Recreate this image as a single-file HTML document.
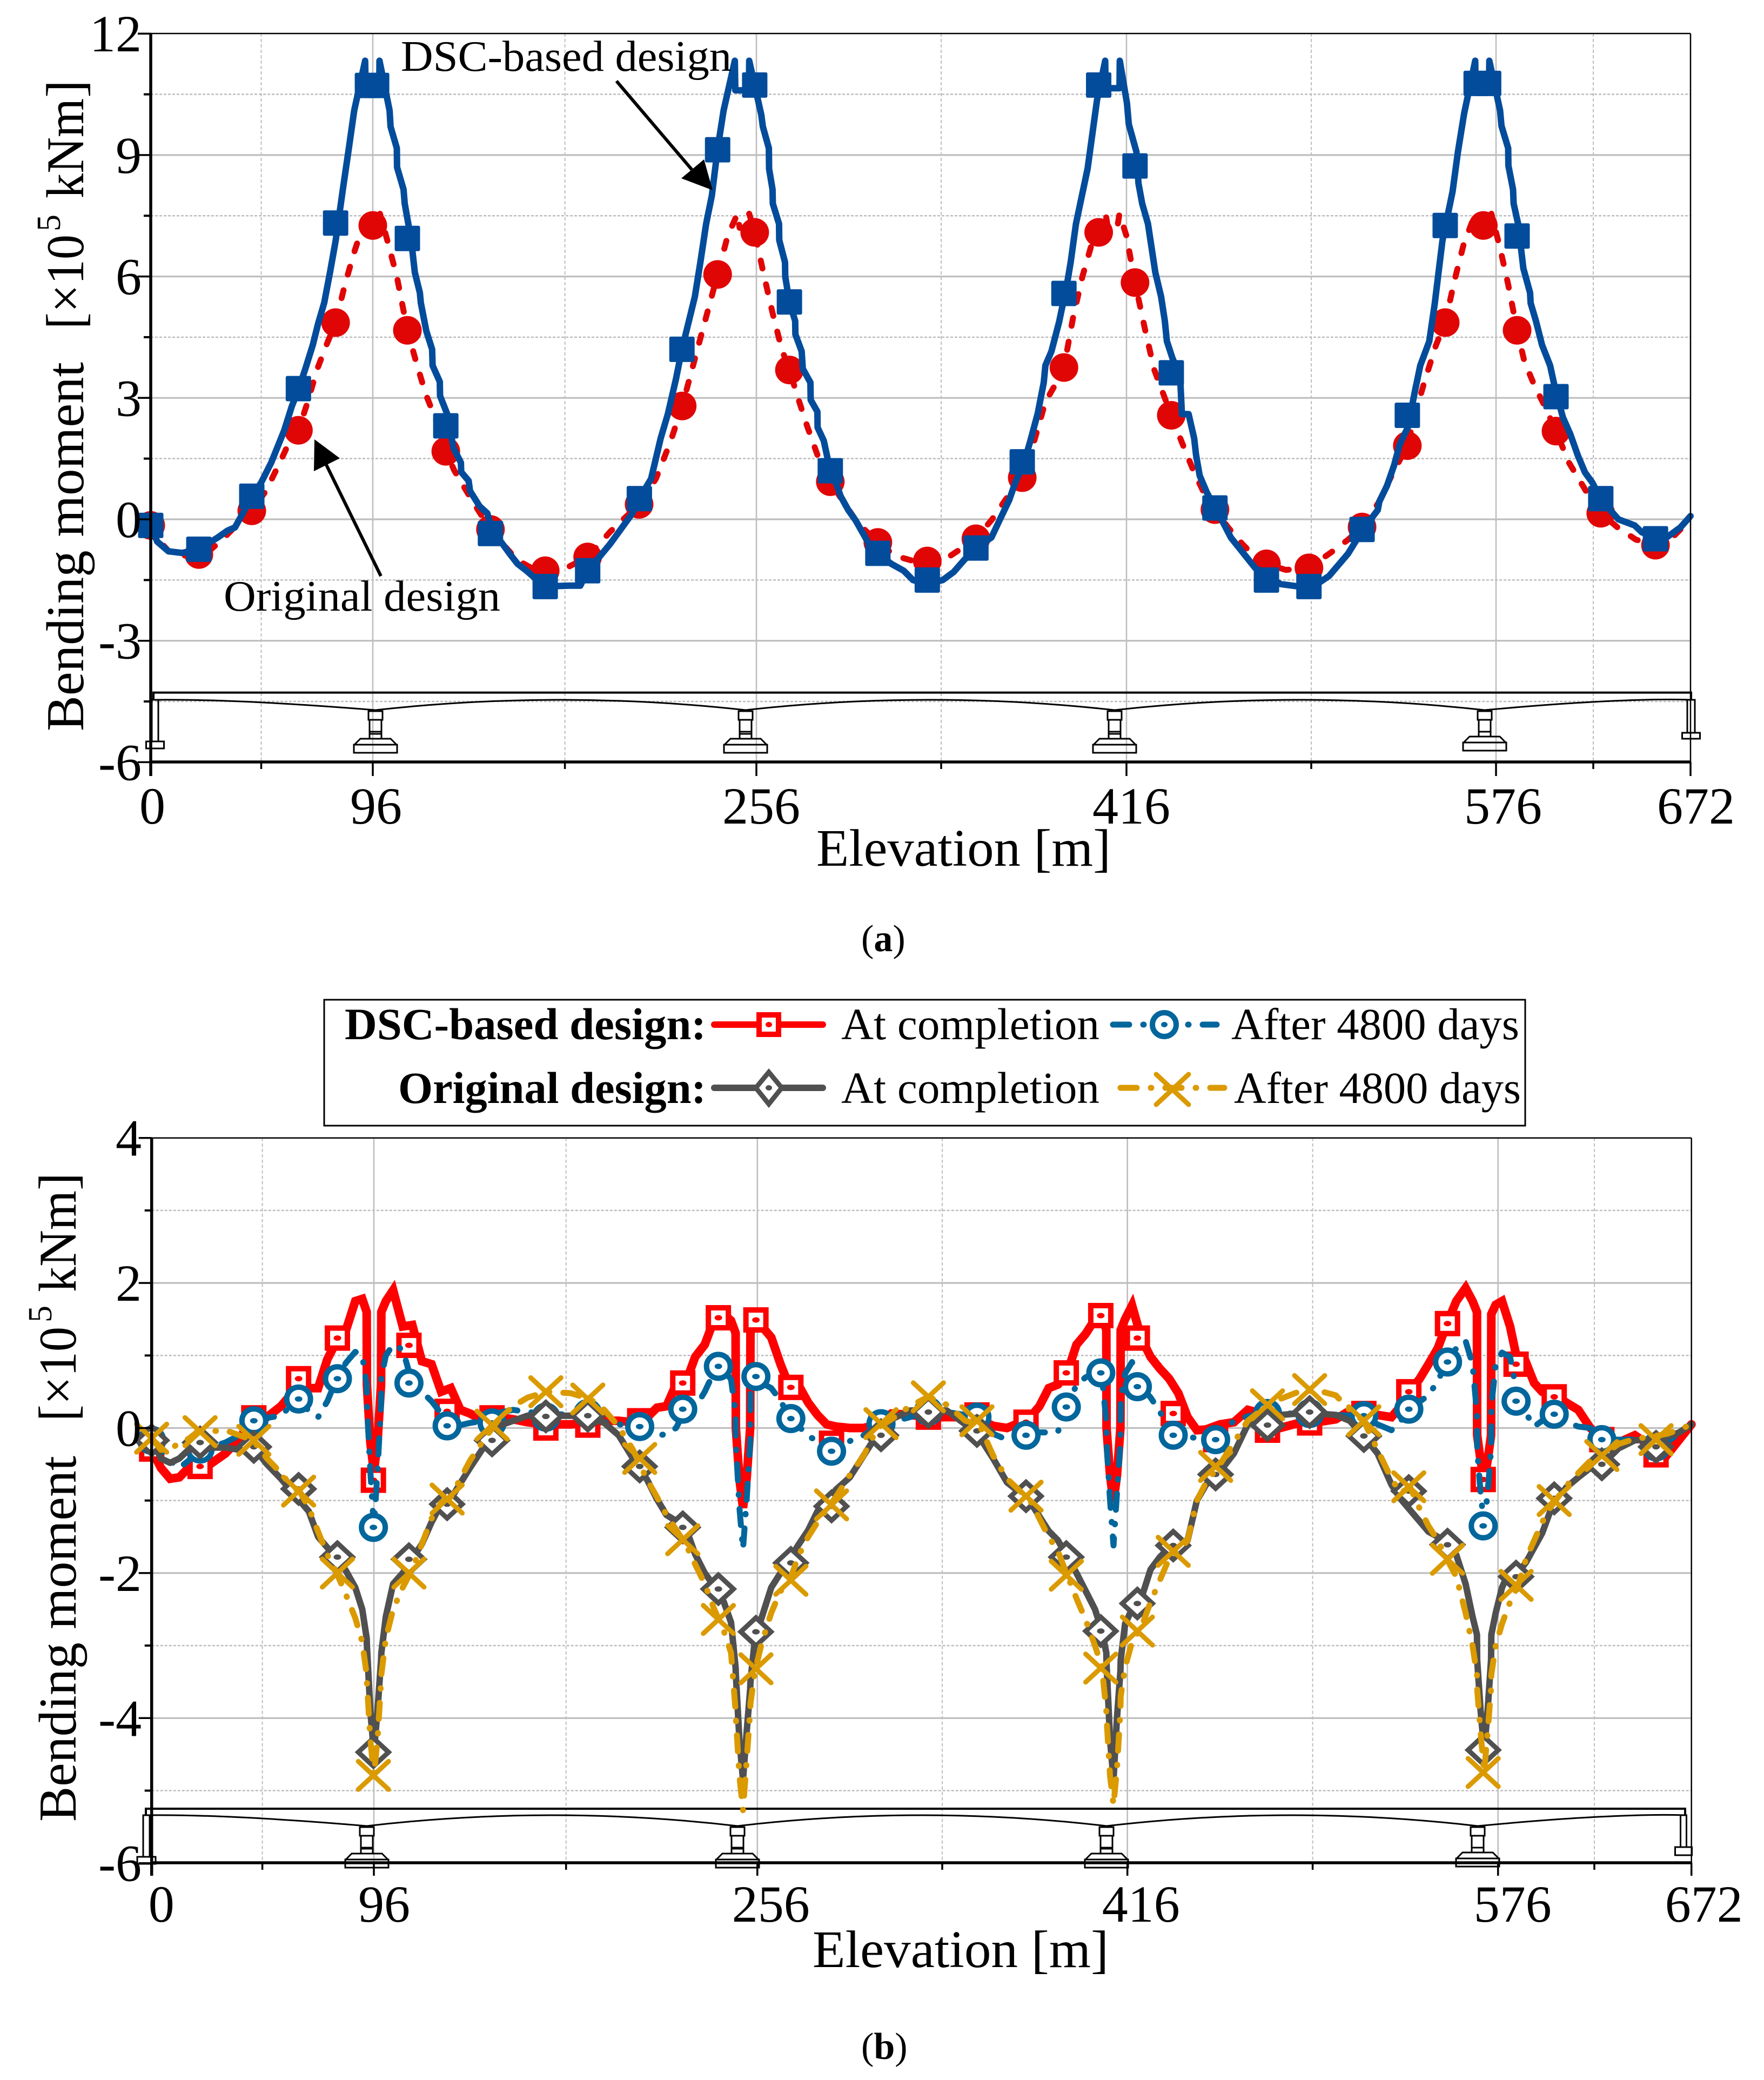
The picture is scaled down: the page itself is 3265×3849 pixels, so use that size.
<!DOCTYPE html>
<html lang="en">
<head>
<meta charset="utf-8">
<title>Bending moment comparison</title>
<style>
html,body{margin:0;padding:0;background:#fff;}
svg{display:block;}
text{font-family:"Liberation Serif",serif;fill:#000;}
</style>
</head>
<body>
<svg id="chart" xmlns="http://www.w3.org/2000/svg" width="3265" height="3849" viewBox="0 0 3265 3849">
<rect x="0" y="0" width="3265" height="3849" fill="#fff"/>
<g id="a-grid"></g>
<g id="a-bridge"></g>
<g id="a-marks"></g>
<g id="a-axes"></g>
<g id="b-grid"></g>
<g id="b-bridge"></g>
<g id="b-marks"></g>
<g id="b-axes"></g>

<g>
<text transform="translate(154,1353) rotate(-90)" font-size="99" textLength="683" lengthAdjust="spacingAndGlyphs">Bending moment</text>
<text transform="translate(154,609) rotate(-90)" font-size="99" textLength="175" lengthAdjust="spacingAndGlyphs">[×10</text>
<text transform="translate(111,428) rotate(-90)" font-size="62">5</text>
<text transform="translate(154,367) rotate(-90)" font-size="99" textLength="185" lengthAdjust="spacingAndGlyphs">kNm</text>
<text transform="translate(154,181) rotate(-90)" font-size="99">]</text>
</g>
<text x="1511" y="1602" font-size="98" textLength="545" lengthAdjust="spacingAndGlyphs">Elevation [m]</text>
<text x="742" y="131" font-size="80" textLength="612" lengthAdjust="spacingAndGlyphs">DSC-based design</text>
<text x="414" y="1130" font-size="80" textLength="512" lengthAdjust="spacingAndGlyphs">Original design</text>
<g>
<line x1="705" y1="1066" x2="598" y2="848" stroke="#000" stroke-width="6"/>
<polygon points="582,813 629,848 581,872" fill="#000"/>
</g>
<g>
<line x1="1141" y1="150" x2="1290" y2="325" stroke="#000" stroke-width="6"/>
<polygon points="1319,352 1303,295 1261,330" fill="#000"/>
</g>
<text x="1594" y="1760" font-size="70">(<tspan font-weight="bold">a</tspan>)</text>

<g>
<rect x="600" y="1850" width="2223" height="233" fill="#fff" stroke="#000" stroke-width="3"/>
<text x="1307" y="1923" text-anchor="end" font-size="83" font-weight="bold" textLength="669" lengthAdjust="spacingAndGlyphs">DSC-based design:</text>
<text x="1307" y="2041" text-anchor="end" font-size="83" font-weight="bold" textLength="570" lengthAdjust="spacingAndGlyphs">Original design:</text>
<line x1="1322" y1="1896" x2="1523" y2="1896" stroke="#FF0000" stroke-width="12" stroke-linecap="round"/>
<rect x="1405" y="1878" width="36" height="36" fill="#fff" stroke="#FF0000" stroke-width="10"/>
<ellipse cx="1423" cy="1896" rx="6" ry="5" fill="#FF0000"/>
<text x="1557" y="1923" font-size="83" textLength="478" lengthAdjust="spacingAndGlyphs">At completion</text>
<line x1="2060" y1="1896" x2="2252" y2="1896" stroke="#00669C" stroke-width="11" stroke-linecap="round" stroke-dasharray="30 26 1 26"/>
<circle cx="2155" cy="1896" r="22" fill="#fff" stroke="#00669C" stroke-width="10"/>
<ellipse cx="2155" cy="1896" rx="6" ry="5" fill="#00669C"/>
<text x="2279" y="1923" font-size="83" textLength="533" lengthAdjust="spacingAndGlyphs">After 4800 days</text>
<line x1="1322" y1="2013" x2="1523" y2="2013" stroke="#505050" stroke-width="12" stroke-linecap="round"/>
<polygon points="1423,1984 1447,2013 1423,2043 1399,2013" fill="#fff" stroke="#505050" stroke-width="9"/>
<ellipse cx="1423" cy="2013" rx="6" ry="5" fill="#505050"/>
<text x="1557" y="2041" font-size="83" textLength="478" lengthAdjust="spacingAndGlyphs">At completion</text>
<line x1="2074" y1="2013" x2="2266" y2="2013" stroke="#DA9A00" stroke-width="11" stroke-linecap="round" stroke-dasharray="30 26 1 26"/>
<path d="M2140,1988 L2200,2044 M2200,1988 L2140,2044" fill="none" stroke="#DA9A00" stroke-width="9" stroke-linecap="round"/>
<text x="2284" y="2041" font-size="83" textLength="531" lengthAdjust="spacingAndGlyphs">After 4800 days</text>
</g>

<g>
<text transform="translate(140,3371) rotate(-90)" font-size="99" textLength="677" lengthAdjust="spacingAndGlyphs">Bending moment</text>
<text transform="translate(140,2630) rotate(-90)" font-size="99" textLength="175" lengthAdjust="spacingAndGlyphs">[×10</text>
<text transform="translate(95,2447) rotate(-90)" font-size="62">5</text>
<text transform="translate(140,2391) rotate(-90)" font-size="99" textLength="188" lengthAdjust="spacingAndGlyphs">kNm</text>
<text transform="translate(140,2203) rotate(-90)" font-size="99">]</text>
</g>
<text x="1504" y="3640" font-size="98" textLength="548" lengthAdjust="spacingAndGlyphs">Elevation [m]</text>
<text x="1594" y="3810" font-size="70">(<tspan font-weight="bold">b</tspan>)</text>

<script>
// ---------- shared axis values ----------
const xTickValues = [0, 48, 96, 176, 256, 336, 416, 496, 576, 624, 672];
const xMajorLabels = [0, 96, 256, 416, 576, 672];

// ---------- panel (a) values ----------
const yTicksA = [12, 9, 6, 3, 0, -3, -6];
const yMinorA = [10.5, 7.5, 4.5, 1.5, -1.5, -4.5];

const dscLineA = [[0,-.15],[2.8,-.55],[7.7,-.79],[13.6,-.83],[20.9,-.74],[29.1,-.45],[33.3,-.28],[36.6,-.2],[43.9,.55],[48,.91],[52.3,1.4],[57.9,2.2],[61.2,2.8],[64,3.2],[67,3.72],[70.2,4.31],[72.5,4.84],[75.1,5.35],[77.6,6.1],[80,6.88],[83.2,8.18],[85.7,9.17],[88,10.1],[92.7,11.33],[92.9,10.7],[98.7,10.7],[98.8,11.33],[103,10.1],[103.4,9.7],[106,9.17],[106.1,8.7],[108.8,8.15],[109.3,7.8],[112,6.9],[113.5,6.1],[115.6,5.6],[116,5.35],[118.3,4.65],[120.7,4.2],[120.9,3.8],[123.9,3.4],[124,3.05],[127,2.6],[129.6,1.76],[132.7,1.4],[132.8,1.17],[135.9,.95],[136.5,.7],[140.5,.32],[143.7,.15],[145.5,-.24],[153,-.85],[156.3,-1.1],[160,-1.27],[167.5,-1.66],[177.7,-1.64],[182.4,-1.64],[185.5,-1.27],[188,-1.1],[195,-.6],[204.2,.15],[207,.51],[212,1],[216,2],[219,2.6],[222.4,3.47],[224.9,4.2],[227.8,4.9],[230.3,5.5],[232.6,6.35],[235,7.3],[237.4,8],[239.8,9.15],[242.3,10.1],[247,11.33],[247.2,10.6],[252.9,10.6],[253,11.33],[258.1,10],[258.8,9.7],[261.4,9.17],[261.5,8.66],[263,8.15],[263.1,7.8],[265.8,7.3],[265.9,6.9],[268.4,6.35],[268.5,6],[270.3,5.37],[272.8,4.9],[272.9,4.57],[275.6,4.15],[276.1,3.72],[279.4,3.38],[279.5,2.95],[282.4,2.66],[282.5,2.27],[285.2,1.94],[288,1.19],[290.9,.83],[292.5,.57],[295.8,.23],[299,-.03],[302.3,-.36],[305.6,-.7],[308.6,-.84],[314.4,-1.1],[319.8,-1.27],[323.8,-1.5],[330,-1.6],[336.7,-1.5],[341.4,-1.3],[346,-1],[351,-.71],[357.7,-.45],[361.4,0],[365.4,.48],[368,.91],[371.9,1.42],[374.5,1.94],[377.7,2.62],[380.3,3.38],[381,3.8],[383.6,4.15],[386.9,4.87],[390.2,5.77],[391.9,6.35],[394.2,7.3],[399.2,8.66],[401.7,9.7],[403.3,10.36],[406.8,11.33],[407,10.65],[413,10.65],[413.1,11.33],[416.2,10.28],[417,9.76],[420.3,9.08],[421.2,8.3],[422.8,7.8],[425.3,7.3],[426.9,6.7],[428.5,6.1],[431,5.5],[432.6,4.9],[433.5,4.4],[435.9,3.98],[439.2,3.55],[440,2.6],[442.9,2.6],[445.3,2],[446.1,1.6],[447.7,1.08],[450.9,.65],[454.1,.32],[458,-.1],[461.2,-.45],[471.7,-1.2],[482.7,-1.6],[495.9,-1.7],[503.7,-1.4],[511.9,-.85],[518.5,-.24],[524.8,.23],[525.5,.44],[528.8,.83],[531.9,1.34],[534.3,1.85],[537.8,2.27],[541,3.2],[543.2,3.8],[547.1,4.4],[549.5,5.34],[551.1,6.1],[552.8,6.88],[557.2,8.1],[559.5,9.08],[562.2,10.03],[567,11.33],[567.1,10.8],[573,10.8],[573.1,11.33],[578,10.1],[578.7,9.72],[582,9.17],[582.1,8.74],[584.4,8.15],[584.7,7.8],[586.9,7.3],[589.5,6.2],[592.8,5.6],[593.1,5.34],[595.7,4.9],[598.7,4.31],[602.7,3.8],[605.3,3.2],[609,2.52],[612.7,2.1],[616.3,1.59],[619.9,1.16],[623.5,.91],[628,.48],[636.4,0],[644.4,-.15],[648,-.32],[657.9,-.53],[667,-.2],[672,.08]];

const dscMarkersA = [[0,-.15],[20.9,-.74],[43.9,.57],[64,3.23],[80,7.32],[93.7,10.72],[97.6,10.72],[110.4,6.94],[126.4,2.31],[145,-.35],[167.8,-1.66],[185.5,-1.27],[207.1,.51],[224.9,4.2],[239.8,9.13],[255.3,10.73],[270.3,5.37],[288,1.2],[308.6,-.84],[330,-1.5],[351,-.71],[371,1.42],[389,5.58],[404,10.73],[419.7,8.73],[435.4,3.62],[454.3,.28],[476.6,-1.5],[495,-1.66],[518,-.25],[537.6,2.57],[554,7.26],[567.4,10.77],[572.8,10.77],[586.4,7],[605.6,3.03],[627.7,.51],[654.7,-.48]];

const originalLineA = [[0,-.15],[4,-.55],[8,-.8],[14,-.9],[20.9,-.87],[26,-.75],[32,-.45],[38,-.1],[43.9,.21],[50,.7],[56,1.4],[60,1.9],[64,2.2],[68,2.9],[72,3.7],[76,4.3],[80,4.86],[84,5.8],[88,6.6],[92,7.3],[93,7.55],[94,7.2],[98,7.2],[99,7.55],[102,6.9],[106,6],[110.4,4.67],[114,3.9],[118,3.1],[122,2.5],[126.4,1.68],[130,1.2],[134,.8],[138,.4],[145,-.25],[150,-.6],[156,-1],[162,-1.2],[167.8,-1.27],[175,-1.25],[185.5,-.93],[195,-.3],[207,.37],[214,1],[220,1.9],[225,2.8],[230,3.9],[235,5],[239.8,6.05],[244,7],[247,7.4],[248,7.55],[249,7.2],[252,7.2],[253,7.55],[255.3,7.09],[259,6.1],[263,5.1],[267,4.2],[270.3,3.69],[274,3],[278,2.3],[283,1.5],[288,.93],[294,.4],[300,-.1],[308.6,-.57],[316,-.9],[324,-1.03],[330,-1.03],[340,-.9],[351,-.48],[358,0],[364,.5],[371,1.03],[376,1.9],[381,2.9],[385,3.3],[389,3.75],[393,5],[397,6],[401,6.8],[405,7.4],[407,7.55],[408,7.2],[412,7.2],[413,7.55],[416,7],[419.7,5.85],[424,4.7],[428,3.7],[435.4,2.57],[440,1.9],[445,1.2],[450,.6],[454.3,.24],[460,-.2],[466,-.6],[472,-.95],[476.6,-1.1],[485,-1.25],[495,-1.2],[505,-.8],[512,-.5],[518,-.19],[525,.4],[531,1.1],[537.6,1.82],[541,2.6],[545,3.4],[550,4.3],[554,4.86],[558,5.9],[562,6.8],[566,7.4],[567,7.55],[568,7.25],[573,7.25],[574,7.55],[578,6.7],[582,5.8],[586.4,4.67],[590,3.9],[595,3.3],[600,2.8],[605.6,2.18],[612,1.4],[618,.9],[624,.4],[627.7,.15],[636,-.2],[645,-.5],[654.7,-.64],[662,-.5],[668,-.2],[672,.05]];

const originalMarkersA = [[0,-.15],[20.9,-.87],[43.9,.21],[64,2.2],[80,4.86],[96,7.26],[110.4,4.67],[126.4,1.68],[145,-.25],[167.8,-1.27],[185.5,-.93],[207,.37],[225,2.8],[239.8,6.05],[255.3,7.09],[270.3,3.69],[288,.93],[308.6,-.57],[330,-1.03],[351,-.48],[371,1.03],[389,3.75],[404,7.09],[419.7,5.85],[435.4,2.57],[454.3,.24],[476.6,-1.1],[495,-1.2],[518,-.19],[537.6,1.82],[554,4.86],[570.5,7.26],[586.4,4.67],[605.6,2.18],[627.7,.15],[654.7,-.64]];

// ---------- panel (b) values ----------
const yTicksB = [4, 2, 0, -2, -4, -6];
const yMinorB = [3, 1, -1, -3, -5];

const elevationB = [
0,4,8,12,16,20,
24,32,38,44,50,56,60,64,68,72,76,80,84,88,91,
92.9,93,94.5,96,97.5,99,99.1,
101,104,108,112,116,120,124,128,132,136,142,148,154,160,168,
178,186,192,198,204,210,214,218,222,226,230,234,238,242,245,
246.9,247,248.5,250,251.5,253,253.1,
255,258,262,266,270,274,278,282,286,290,296,302,308,314,322,330,
338,346,352,358,364,370,374,378,382,386,390,394,398,402,405,
406.9,407,408.5,410,411.5,413,413.1,
415,418,422,426,430,434,438,442,446,450,456,462,468,474,482,490,
498,506,512,518,524,530,534,538,542,546,550,554,558,562,565,
566.9,567,568.5,570,571.5,573,573.1,
575,578,582,586,590,594,598,602,606,610,616,622,628,636,644,
652,660,666,672];

const dscCompletionB = [
-.3,-.55,-.7,-.68,-.55,-.53,
-.53,-.35,-.15,.14,.15,.3,.45,.68,.55,.55,.95,1.2,1.35,1.75,1.78,
1.6,.6,-.2,-.6,-.2,.6,1.6,
1.75,1.9,1.4,1.42,.92,.88,.5,.55,.25,.2,.1,.15,.12,.08,.05,
.05,.08,.1,.1,.08,.15,.28,.3,.6,.62,.98,1.15,1.5,1.57,1.48,
1.31,0,-.7,-1.1,-.7,0,1.31,
1.49,1.4,1.25,.88,.56,.58,.35,.18,.05,.02,0,0,.05,.2,.18,.15,
.15,.15,.12,.03,0,.08,.15,.3,.55,.6,.76,1.15,1.3,1.5,1.55,
1.35,0,-.65,-1.02,-.65,0,1.35,
1.5,1.69,1.24,.98,.82,.68,.48,.15,-.03,-.02,.05,.08,.25,.2,0,.07,
.08,.12,.24,.2,.18,.15,.3,.52,.67,.88,1.1,1.44,1.75,1.93,1.75,
1.6,-.1,-.45,-.72,-.45,-.1,1.57,
1.7,1.75,1.4,.88,.9,.62,.5,.45,.43,.35,.25,0,-.16,-.2,-.1,
-.25,-.37,-.16,.05];

const dsc4800B = [
-.17,-.3,-.45,-.55,-.45,-.3,
-.28,-.2,-.1,.1,.14,.17,.3,.4,.23,.15,.37,.68,.9,1.05,1,
.6,.33,-.6,-1.37,-.6,.33,.7,
1,1.15,1.08,.62,.5,.37,.2,.03,.04,.07,.1,.21,.25,.22,.2,
.18,.12,.08,.05,.03,-.08,-.11,-.08,0,.26,.28,.5,.78,.8,.67,
.2,-.21,-1.1,-1.67,-1,-.21,.52,
.71,.62,.55,.38,.13,.02,-.11,-.18,-.3,-.3,-.18,-.1,.03,.08,.15,.23,
.22,.18,.12,-.08,-.16,-.12,-.08,-.06,-.06,-.05,.29,.6,.7,.75,.7,
.1,-.2,-1,-1.62,-.9,-.2,.4,
.75,.91,.57,.42,.23,-.05,-.1,-.12,-.14,-.16,-.08,.1,.16,.2,.2,.2,
.2,.18,.17,.17,.05,-.03,.1,.26,.36,.45,.65,.91,1.1,1.2,.88,
.2,-.3,-.9,-1.35,-.9,-.3,.3,
.88,1.04,.98,.4,.2,.02,.1,.19,.15,.08,.02,0,-.16,-.16,-.16,
-.22,-.2,-.06,.05];

const originalCompletionB = [
-.15,-.42,-.48,-.42,-.3,-.28,
-.27,-.27,-.3,-.26,-.5,-.7,-.85,-1,-1.15,-1.5,-1.65,-1.78,-1.97,-2.2,-2.5,
-2.9,-3,-3.9,-4.47,-3.9,-3.2,-3.1,
-2.6,-2.15,-2,-1.8,-1.6,-1.3,-1.05,-.98,-.76,-.55,-.25,.03,.1,.17,.17,
.17,.15,.07,-.1,-.42,-.72,-.98,-1.2,-1.28,-1.37,-1.74,-2,-2.18,-2.4,-2.68,
-3.3,-3.4,-4.3,-4.85,-4.2,-3.6,-3.5,
-2.9,-2.6,-2.2,-2,-1.8,-1.6,-1.41,-1.15,-1.02,-.85,-.68,-.38,-.08,.12,.24,.25,
.24,.05,-.12,-.42,-.75,-.9,-1.02,-1.22,-1.42,-1.55,-1.78,-2,-2.25,-2.5,-2.8,
-3.1,-3.25,-4.3,-4.85,-4,-3.35,-3.2,
-2.7,-2.5,-2.35,-1.95,-1.78,-1.65,-1.6,-1.55,-1,-.78,-.6,-.35,.05,.13,.18,.2,
.2,.18,.1,-.11,-.35,-.78,-.98,-1.13,-1.28,-1.43,-1.5,-1.61,-1.75,-2.15,-2.6,
-2.85,-3.2,-3.9,-4.44,-3.9,-3.2,-2.85,
-2.55,-2.2,-1.95,-2,-1.85,-1.65,-1.45,-1.15,-.97,-.82,-.68,-.55,-.5,-.28,-.17,
-.16,-.12,-.06,.05];

const original4800B = [
-.14,-.3,-.3,-.2,-.15,-.05,
-.05,-.03,-.1,-.17,-.42,-.62,-.78,-.87,-1.1,-1.43,-1.75,-2,-2.3,-2.62,-2.95,
-3.4,-3.5,-4.3,-4.79,-4.3,-3.5,-3.4,
-2.9,-2.5,-2.2,-1.95,-1.6,-1.25,-1.03,-.95,-.7,-.45,-.15,.12,.3,.42,.5,
.48,.4,.25,.02,-.3,-.72,-.95,-1.2,-1.4,-1.6,-1.88,-2.15,-2.5,-2.8,-3.1,
-3.9,-4,-4.8,-5.27,-4.6,-3.9,-3.8,
-3.35,-2.95,-2.55,-2.25,-2.1,-1.75,-1.5,-1.3,-1.12,-.95,-.65,-.38,0,.12,.3,.43,
.32,.1,.05,-.38,-.7,-.88,-1,-1.25,-1.5,-1.7,-2.03,-2.35,-2.65,-3,-3.3,
-3.9,-4,-4.8,-5.2,-4.7,-3.9,-3.7,
-3.3,-2.95,-2.75,-2.4,-2.1,-1.8,-1.7,-1.55,-1,-.75,-.5,-.2,.1,.25,.4,.5,
.52,.45,.25,.1,-.3,-.7,-.9,-.81,-1.1,-1.35,-1.55,-1.81,-2.05,-2.55,-3,
-3.4,-3.6,-4.2,-4.75,-4.2,-3.6,-3.4,
-3,-2.7,-2.4,-2.17,-1.8,-1.55,-1.3,-1.1,-.95,-.8,-.62,-.45,-.38,-.22,-.15,
-.12,-.08,-.02,.05];

const markerElevationB = [0,21,44.3,63.6,80.3,95.8,110.6,126.5,145.2,167.6,185.1,206.8,224.8,239.7,255.4,270.5,288.1,309.5,330,351,372.2,389.6,404.5,420.3,435.8,454.1,476.5,494.7,518.1,537.5,554.2,569.6,585,604,627.7,654.5];
const dscCompletionMarkersB = [-.29,-.53,.14,.68,1.24,-.72,1.14,.23,.14,0,.04,.1,.62,1.52,1.49,.56,-.21,0,.15,.18,.08,.76,1.55,1.24,.2,-.16,-.03,.07,.2,.5,1.44,-.71,.88,.43,-.16,-.37];
const dsc4800MarkersB = [-.17,-.29,.1,.4,.68,-1.37,.62,.03,.07,.15,.2,.02,.26,.85,.71,.13,-.32,.06,.23,.15,-.1,.29,.76,.57,-.1,-.16,.2,.2,.17,.26,.91,-1.35,.37,.19,-.16,-.26];
const originalCompletionMarkersB = [-.17,-.2,-.26,-.84,-1.78,-4.47,-1.81,-1.05,-.17,.16,.17,-.53,-1.37,-2.22,-2.81,-1.86,-1.08,-.1,.22,-.04,-.94,-1.78,-2.8,-2.42,-1.62,-.64,.04,.22,-.11,-.87,-1.61,-4.44,-2.05,-.97,-.5,-.26];
const original4800MarkersB = [-.14,-.05,-.17,-.87,-2,-4.79,-2,-.98,.04,.5,.4,-.42,-1.54,-2.64,-3.32,-2.1,-1.06,.06,.43,.1,-.94,-2.03,-3.31,-2.8,-1.7,-.53,.32,.53,.1,-.81,-1.81,-4.75,-2.17,-1,-.38,-.16];

// ---------- helpers ----------
const NS = 'http://www.w3.org/2000/svg';
function make(parent, tag, attrs) {
  const el = document.createElementNS(NS, tag);
  for (const k in attrs) el.setAttribute(k, attrs[k]);
  parent.appendChild(el);
  return el;
}
function piecewise(domain, range) {
  return function (v) {
    let i = 0;
    while (i < domain.length - 2 && v > domain[i + 1]) i++;
    const t = (v - domain[i]) / (domain[i + 1] - domain[i]);
    return range[i] + t * (range[i + 1] - range[i]);
  };
}
function pathFrom(points, xs, ys) {
  return points.map((p, i) => (i ? 'L' : 'M') + xs(p[0]).toFixed(1) + ',' + ys(p[1]).toFixed(1)).join(' ');
}
function zip(a, b) {
  return a.map((v, i) => [v, b[i]]);
}

function drawAxes(gridG, axesG, o) {
  const GRID = '#BEBEBE';
  o.yTicks.forEach(function (v) {
    const y = o.ys(v);
    if (v !== o.yMin && v !== o.yMax) {
      const g = make(gridG, 'line', {x1: o.left, x2: o.right, y1: y, y2: y, stroke: GRID, 'stroke-width': 3.2});
      
      
    }
    const t = make(axesG, 'line', {x1: o.left - 24, x2: o.left, y1: y, y2: y, stroke: '#000', 'stroke-width': 3.5});
    
    
    const l = make(axesG, 'text', {x: 262, y: y + 33, 'text-anchor': 'end', 'font-size': 96});
    l.textContent = String(v);
    
    
  });
  o.yMinor.forEach(function (v) {
    const y = o.ys(v);
    const g = make(gridG, 'line', {x1: o.left, x2: o.right, y1: y, y2: y, stroke: GRID, 'stroke-width': 2.5, 'stroke-dasharray': '5 3'});
    
    
    const t = make(axesG, 'line', {x1: o.left - 13, x2: o.left, y1: y, y2: y, stroke: '#000', 'stroke-width': 4});
    
    
  });
  xTickValues.forEach(function (v) {
    const x = o.xs(v);
    const major = xMajorLabels.indexOf(v) >= 0;
    if (v !== 0 && v !== 672) {
      const g = make(gridG, 'line', major
        ? {x1: x, x2: x, y1: o.top, y2: o.bottom, stroke: GRID, 'stroke-width': 2.6}
        : {x1: x, x2: x, y1: o.top, y2: o.bottom, stroke: GRID, 'stroke-width': 2, 'stroke-dasharray': '6 4'});
      
      
    }
    const t = make(axesG, 'line', {x1: x, x2: x, y1: o.bottom, y2: o.bottom + (major ? o.majorLen : o.minorLen), stroke: '#000', 'stroke-width': 3.5});
    
    
    if (major) {
      const l = make(axesG, 'text', {x: x + o.labelShift(v), y: o.labelY, 'text-anchor': 'middle', 'font-size': 96});
      l.textContent = String(v);
      
      
    }
  });
  const topLine = make(axesG, 'line', {x1: o.left, x2: o.right, y1: o.top, y2: o.top, stroke: '#000', 'stroke-width': 2.5});
  
  
  const rightLine = make(axesG, 'line', {x1: o.right, x2: o.right, y1: o.top, y2: o.bottom + o.majorLen, stroke: '#000', 'stroke-width': 2.5});
  
  
  const yAxis = make(axesG, 'line', {x1: o.left, x2: o.left, y1: o.top, y2: o.bottom + o.majorLen, stroke: '#000', 'stroke-width': 5.5});
  
  
  const xAxis = make(axesG, 'line', {x1: o.left, x2: o.right, y1: o.bottom, y2: o.bottom, stroke: '#000', 'stroke-width': 5.5});
  
  
}

function drawBridge(g, deckY, midY, pierY, leftX, rightX, piers, pierBottom, leftAb, rightAb) {
  const S = {fill: 'none', stroke: '#000', 'stroke-width': 3};
  const deck = make(g, 'path', Object.assign({d: 'M' + leftX + ',' + midY + ' L' + leftX + ',' + deckY + ' L' + rightX + ',' + deckY + ' L' + rightX + ',' + midY}, S, {'stroke-width': 4}));
  
  
  let d = 'M' + leftX + ',' + midY + ' Q' + (leftX + 150) + ',' + (midY - 2) + ' ' + piers[0] + ',' + pierY;
  for (let i = 0; i < piers.length - 1; i++) {
    d += ' Q' + (piers[i] + piers[i + 1]) / 2 + ',' + (2 * midY - pierY) + ' ' + piers[i + 1] + ',' + pierY;
  }
  d += ' Q' + (rightX - 130) + ',' + (midY - 4) + ' ' + rightX + ',' + midY;
  const soffit = make(g, 'path', Object.assign({d: d}, S));
  
  
  piers.forEach(function (px, i) {
    const bottom = pierBottom[i];
    const p = make(g, 'path', Object.assign({d:
      'M' + (px - 13) + ',' + (pierY + 2) + ' h26 v16 h-26 z ' +
      'M' + (px - 11) + ',' + (pierY + 18) + ' v22 h22 v-22 ' +
      'M' + (px - 11) + ',' + (bottom - 26) + ' v-9 h22 v9 ' +
      'M' + (px - 39) + ',' + (bottom - 15) + ' L' + (px - 28) + ',' + (bottom - 26) + ' h56 L' + (px + 39) + ',' + (bottom - 15) + ' ' +
      'M' + (px - 40) + ',' + (bottom - 15) + ' h80 v15 h-80 z ' +
      'M' + (px - 11) + ',' + (pierY + 40) + ' V' + (bottom - 35) + ' M' + (px + 11) + ',' + (pierY + 40) + ' V' + (bottom - 35)}, S));
    
    
  });
  [leftAb, rightAb].forEach(function (a) {
    const p = make(g, 'path', Object.assign({d:
      'M' + (a.x - a.w / 2) + ',' + a.top + ' h' + a.w + ' V' + a.foot + ' h-' + a.w + ' z ' +
      'M' + (a.x - a.fw / 2) + ',' + a.foot + ' h' + a.fw + ' v' + a.fh + ' h-' + a.fw + ' z'}, S));
    
    
  });
}

function squareSolid(g, x, y, color) {
  const m = make(g, 'rect', {x: x - 23.5, y: y - 23.5, width: 47, height: 47, rx: 3, fill: color});
  
  
}
function circleSolid(g, x, y, color) {
  const m = make(g, 'circle', {cx: x, cy: y, r: 26.5, fill: color});
  
  
}
function hollowMarker(g, kind, x, y, color) {
  let m;
  if (kind === 'square') {
    m = make(g, 'rect', {x: x - 18.5, y: y - 18.5, width: 37, height: 37, fill: '#fff', stroke: color, 'stroke-width': 10});
  } else if (kind === 'circle') {
    m = make(g, 'circle', {cx: x, cy: y, r: 22, fill: '#fff', stroke: color, 'stroke-width': 10});
  } else if (kind === 'diamond') {
    m = make(g, 'polygon', {points: (x) + ',' + (y - 26) + ' ' + (x + 28) + ',' + y + ' ' + x + ',' + (y + 26) + ' ' + (x - 28) + ',' + y, fill: '#fff', stroke: color, 'stroke-width': 9});
  } else {
    m = make(g, 'path', {d: 'M' + (x - 28) + ',' + (y - 26) + ' L' + (x + 28) + ',' + (y + 26) + ' M' + (x + 28) + ',' + (y - 26) + ' L' + (x - 28) + ',' + (y + 26), fill: 'none', stroke: color, 'stroke-width': 9, 'stroke-linecap': 'round'});
  }
  
  
  if (kind !== 'cross') {
    const dot = make(g, 'ellipse', {cx: x, cy: y, rx: 7, ry: 5, fill: color});
    
    
  }
}

// ---------- panel (a) ----------
(function () {
  const xs = piecewise(xTickValues, [279, 483.5, 690, 1045.6, 1400, 1742, 2085, 2427, 2769, 2949, 3129]);
  const ys = function (v) { return 961 - 74.9 * v; };
  const shifts = {0: 3, 96: 6, 256: 9, 416: 9, 576: 13, 672: 10};
  drawAxes(document.getElementById('a-grid'), document.getElementById('a-axes'), {
    xs: xs, ys: ys, yTicks: yTicksA, yMinor: yMinorA, yMin: -6, yMax: 12,
    left: 279, right: 3129, top: 62, bottom: 1410, majorLen: 26, minorLen: 13,
    labelY: 1524, labelShift: function (v) { return shifts[v]; }
  });
  drawBridge(document.getElementById('a-bridge'), 1281.6, 1295, 1314, 284, 3130,
    [695, 1380, 2063, 2748], [1393, 1393, 1393, 1389],
    {x: 287, w: 12, top: 1295, foot: 1372, fw: 33, fh: 13},
    {x: 3130, w: 14, top: 1295, foot: 1356, fw: 33, fh: 11});
  const g = document.getElementById('a-marks');
  const RED = '#E10606', BLUE = '#034C9B';
  const orig = make(g, 'path', {d: pathFrom(originalLineA, xs, ys), fill: 'none', stroke: RED, 'stroke-width': 11, 'stroke-linecap': 'round', 'stroke-linejoin': 'round', 'stroke-dasharray': '15 30'});
  
  
  originalMarkersA.forEach(function (p) { circleSolid(g, xs(p[0]), ys(p[1]), RED); });
  const dsc = make(g, 'path', {d: pathFrom(dscLineA, xs, ys), fill: 'none', stroke: BLUE, 'stroke-width': 12, 'stroke-linecap': 'round', 'stroke-linejoin': 'round'});
  
  
  dscMarkersA.forEach(function (p) { squareSolid(g, xs(p[0]), ys(p[1]), BLUE); });
})();

// ---------- panel (b) ----------
(function () {
  const xs = piecewise(xTickValues, [280.7, 485.6, 692, 1047.7, 1401.8, 1744, 2086.7, 2429.6, 2772.7, 2951, 3130.7]);
  const ys = function (v) { return 2642.5 - 134.2 * v; };
  const shifts = {0: 18, 96: 19, 256: 25, 416: 25, 576: 27, 672: 23};
  drawAxes(document.getElementById('b-grid'), document.getElementById('b-axes'), {
    xs: xs, ys: ys, yTicks: yTicksB, yMinor: yMinorB, yMin: -6, yMax: 4,
    left: 280.7, right: 3130.7, top: 2105.7, bottom: 3447, majorLen: 24, minorLen: 13,
    labelY: 3556, labelShift: function (v) { return shifts[v]; }
  });
  drawBridge(document.getElementById('b-bridge'), 3347, 3359, 3379, 270, 3119,
    [679, 1365, 2048, 2735], [3456, 3456, 3456, 3454],
    {x: 271, w: 12, top: 3359, foot: 3436, fw: 34, fh: 13},
    {x: 3116, w: 11, top: 3359, foot: 3418, fw: 31, fh: 15});
  const g = document.getElementById('b-marks');
  const RED = '#FF0000', BLUE = '#00669C', GRAY = '#505050', GOLD = '#DA9A00';
  const dash = '30 26 1 26';

  const redLine = make(g, 'path', {d: pathFrom(zip(elevationB, dscCompletionB), xs, ys), fill: 'none', stroke: RED, 'stroke-width': 16, 'stroke-linejoin': 'miter', 'stroke-linecap': 'round'});
  
  
  markerElevationB.forEach(function (e, i) { hollowMarker(g, 'square', xs(e), ys(dscCompletionMarkersB[i]), RED); });

  const blueLine = make(g, 'path', {d: pathFrom(zip(elevationB, dsc4800B), xs, ys), fill: 'none', stroke: BLUE, 'stroke-width': 11, 'stroke-linejoin': 'round', 'stroke-linecap': 'round', 'stroke-dasharray': dash});
  
  
  markerElevationB.forEach(function (e, i) { hollowMarker(g, 'circle', xs(e), ys(dsc4800MarkersB[i]), BLUE); });

  const grayLine = make(g, 'path', {d: pathFrom(zip(elevationB, originalCompletionB), xs, ys), fill: 'none', stroke: GRAY, 'stroke-width': 12, 'stroke-linejoin': 'round', 'stroke-linecap': 'round'});
  
  
  markerElevationB.forEach(function (e, i) { hollowMarker(g, 'diamond', xs(e), ys(originalCompletionMarkersB[i]), GRAY); });

  const goldLine = make(g, 'path', {d: pathFrom(zip(elevationB, original4800B), xs, ys), fill: 'none', stroke: GOLD, 'stroke-width': 11, 'stroke-linejoin': 'round', 'stroke-linecap': 'round', 'stroke-dasharray': dash});
  
  
  markerElevationB.forEach(function (e, i) { hollowMarker(g, 'cross', xs(e), ys(original4800MarkersB[i]), GOLD); });
})();
</script>
</svg>
</body>
</html>
